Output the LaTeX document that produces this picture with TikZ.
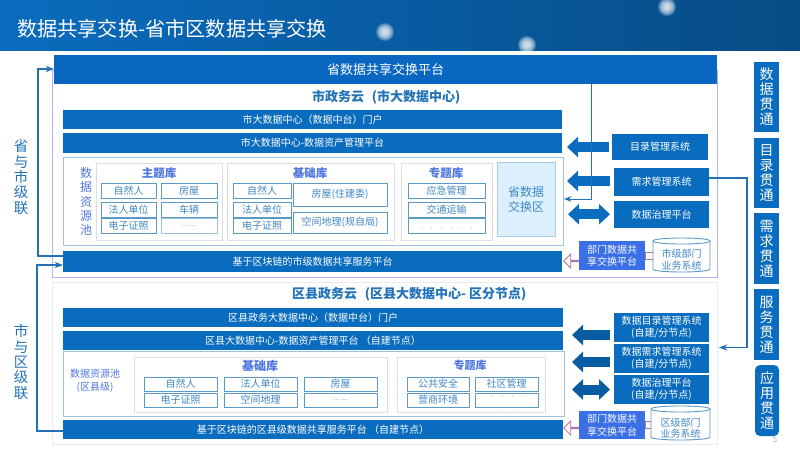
\documentclass[tikz,border=0pt]{standalone}
\usepackage{fontspec}
\setmainfont{Noto Sans CJK SC}
\usetikzlibrary{arrows.meta,shapes.arrows,shadows}
\definecolor{barblue}{HTML}{0A6CBE}
\definecolor{deptblue}{HTML}{3A6FE6}
\definecolor{cellline}{HTML}{5C9AC6}
\definecolor{celltext}{HTML}{3F88C4}
\definecolor{headblue}{HTML}{4F76E0}
\definecolor{linkblue}{HTML}{2272B8}
\newcommand{\fsz}[2]{\fontsize{#1}{#2}\selectfont}
\newcommand{\boxn}[7]{\node[#1,minimum width={(#5-#3)*1pt},minimum height={(#6-#4)*1pt}] (#2) at ({(#3+#5)/2},{(#4+#6)/2}) {#7};}
\newcommand{\barrel}[1]{\draw[store] ([yshift=-3pt]#1.north west) .. controls ([yshift=1pt]#1.north west) and ([yshift=1pt]#1.north east) .. ([yshift=-3pt]#1.north east) -- ([yshift=3pt]#1.south east) .. controls ([yshift=-1pt]#1.south east) and ([yshift=-1pt]#1.south west) .. ([yshift=3pt]#1.south west) -- cycle;
\draw[store] ([yshift=-3pt]#1.north west) .. controls ([yshift=-7pt]#1.north west) and ([yshift=-7pt]#1.north east) .. ([yshift=-3pt]#1.north east);}
\tikzset{>=Stealth,every node/.style={inner sep=0pt,outer sep=0pt,align=center},
bar/.style={fill=barblue,text=white,font=\fsz{10}{12}},
outline/.style={draw=#1,line width=.8pt},
panel/.style={fill=white,draw=black!13,line width=1pt,drop shadow={shadow xshift=1pt,shadow yshift=-1pt,fill=black!35,opacity=.5}},
cell/.style={fill=white,draw=cellline,line width=.9pt,text=celltext,font=\fsz{10}{12}},
head/.style={text=headblue,font=\fsz{11.5}{14}\bfseries},
cloudtitle/.style={anchor=west,text=linkblue,font=\fsz{13}{16}\bfseries},
side/.style={text=linkblue,font=\fsz{14.5}{15.3}},
column/.style={fill=barblue,text=white,font=\fsz{14}{15}},
dept/.style={fill=deptblue,text=white,font=\fsz{10}{12.5}},
store/.style={draw=cellline,fill=white,line width=.9pt},
storetext/.style={text=celltext,font=\fsz{10}{11.5}},
dots/.style={anchor=base,text=black!50,font=\fsz{7}{9}},
flow/.style={line width=10pt,barblue,-{Triangle[length=11pt,width=20pt]}},
flowboth/.style={line width=10pt,barblue,{Triangle[length=11pt,width=20pt]}-{Triangle[length=11pt,width=20pt]}},
link/.style={linkblue,line width=1.2pt,->},
hollow/.style={single arrow,shape border rotate=180,draw=black!20!violet!55,fill=orange!8,line width=.8pt,minimum height=15pt,minimum width=14pt,single arrow head extend=4pt,single arrow head indent=0pt},
stub/.style={draw=black!20!violet!55,fill=orange!8,line width=.8pt}}
\begin{document}
\begin{tikzpicture}[x=1pt,y=-1pt]
\useasboundingbox (0,0) rectangle (800,450);
% header
\shade[left color=barblue,right color=barblue!70!black] (0,0) rectangle (800,50);
\begin{scope}
\clip (0,0) rectangle (800,50);
\foreach \gx/\gy in {385/32,667/7,527/45}{\foreach \gr in {9,8,7,6,5,4,3}{\fill[white,opacity=.2] (\gx,\gy) circle (\gr);}}
\end{scope}
\node[anchor=west,text=white,font=\fsz{20.2}{24}] (title) at (17,29) {数据共享交换-省市区数据共享交换};
% city cloud
\boxn{outline=black!15!blue!30}{citycloud}{52}{70}{717}{277}{}
\boxn{outline=black!8}{districtcloud}{52}{282}{717}{444}{}
\boxn{bar,fill=barblue!95!blue,font=\fsz{13}{16}}{prov}{54}{55}{717}{84}{省数据共享交换平台}
\node[cloudtitle] (citytitle) at (312,97) {市政务云\hspace{8pt}(市大数据中心)};
\boxn{bar}{portal}{63}{110}{562}{129}{市大数据中心（数据中台）门户}
\boxn{bar}{asset}{63}{133}{562}{153}{市大数据中心-数据资产管理平台}
\boxn{outline=cellline!60}{pool}{63}{157}{563}{245}{}
\node[head,font=\fsz{12}{14.3}] (pooltext) at (86,201.5) {数\\据\\资\\源\\池};
\boxn{panel}{theme}{96}{163}{222}{240}{}
\boxn{panel}{base}{227}{163}{394}{240}{}
\boxn{panel}{topic}{401}{163}{492}{240}{}
\node[head] (themehead) at (159,173) {主题库};
\node[head] (basehead) at (310,173) {基础库};
\node[head] (topichead) at (446,173) {专题库};
\boxn{cell}{a1}{101}{183}{156}{198}{自然人}
\boxn{cell}{a2}{101}{202}{156}{217}{法人单位}
\boxn{cell}{a3}{101}{218.500}{156}{233}{电子证照}
\boxn{cell}{b1}{161}{183}{217}{198}{房屋}
\boxn{cell}{b2}{161}{202}{217}{217}{车辆}
\boxn{cell,draw=cellline!60,font=\fsz{7}{9}}{b3}{161}{218.500}{217}{233}{... ...}
\boxn{cell}{c1}{233}{183}{291}{198}{自然人}
\boxn{cell}{c2}{233}{202}{291}{217}{法人单位}
\boxn{cell}{c3}{233}{218.500}{291}{233}{电子证照}
\boxn{cell}{d1}{293}{183}{387}{206}{房屋(住建委)}
\boxn{cell}{d2}{293}{212}{387}{233}{空间地理(规自局)}
\boxn{cell}{e1}{408}{183}{485}{198}{应急管理}
\boxn{cell}{e2}{408}{202}{485}{217}{交通运输}
\boxn{cell}{e3}{408}{218.500}{485}{233}{}
\node[dots] (e3dots) at (446.500,229.500) {.\hspace{8pt}.\hspace{8pt}.\hspace{8pt}.\hspace{8pt}.\hspace{8pt}.};
\boxn{fill=blue!45!cyan!14,draw=cellline!50,line width=.8pt,text=celltext,font=\fsz{12}{15}}{xchg}{497}{162}{555}{236}{省数据\\交换区}
\boxn{bar}{cityshare}{63}{251}{562}{272}{基于区块链的市级数据共享服务平台}
\boxn{bar}{catalog}{612}{134}{708}{160}{目录管理系统}
\boxn{bar}{demand}{614}{168}{709}{196}{需求管理系统}
\boxn{bar}{govern}{614}{201}{709}{227.500}{数据治理平台}
\draw[flow,shorten >=5pt,shorten <=3pt] (catalog.west) -- (catalog.west -| asset.east);
\draw[flow,shorten >=5pt,shorten <=4pt] ([yshift=1pt]demand.west) -- ([yshift=1pt]demand.west -| asset.east);
\draw[flowboth,shorten >=6pt,shorten <=4pt] (govern.west) -- (govern.west -| asset.east);
\coordinate (xchgin) at (564,199);
\coordinate (tap) at (591,84);
\draw[link,line width=1pt] (tap) -- (tap |- xchgin) -- (xchgin);
\boxn{dept}{citydept}{579}{241}{645}{270}{部门数据共\\享交换平台}
\node[minimum width=57pt,minimum height=34pt] (citydb) at (681.500,255) {};
\path[stub] ([yshift=3.5pt]citydept.east) rectangle ([yshift=-3.5pt]citydept.east -| citydb.west);
\barrel{citydb}
\node[storetext] (citydbtext) at (681.500,259.500) {市级部门\\业务系统};
\node[hollow] (cityarrow) at (571.500,261) {};
% district cloud
\node[cloudtitle] (districttitle) at (292,294) {区县政务云\hspace{8pt}(区县大数据中心- 区分节点)};
\boxn{bar}{dportal}{63}{308}{563}{327}{区县政务大数据中心（数据中台）门户}
\boxn{bar}{dasset}{63}{331}{563}{350}{区县大数据中心-数据资产管理平台 （自建节点）}
\boxn{outline=cellline!60}{dpool}{63}{351}{564}{416}{}
\node[head,font=\fsz{10}{13}] (dpooltext) at (95,381) {数据资源池\\(区县级)};
\boxn{panel}{dbase}{134}{357}{387}{412}{}
\boxn{panel}{dtopic}{397}{357}{545}{412}{}
\node[head,font=\fsz{12}{14}\bfseries] (dbasehead) at (260,366) {基础库};
\node[head,font=\fsz{11}{14}\bfseries] (dtopichead) at (470,365) {专题库};
\boxn{cell}{f1}{144}{377}{217}{391}{自然人}
\boxn{cell}{f2}{224}{377}{297}{391}{法人单位}
\boxn{cell}{f3}{304}{377}{377}{391}{房屋}
\boxn{cell}{g1}{144}{393}{217}{407}{电子证照}
\boxn{cell}{g2}{224}{393}{297}{407}{空间地理}
\boxn{cell,font=\fsz{7}{9}}{g3}{304}{393}{377}{407}{... ...}
\boxn{cell}{h1}{407}{377}{469}{391}{公共安全}
\boxn{cell}{h2}{475}{377}{538}{391}{社区管理}
\boxn{cell}{i1}{407}{393}{469}{407}{营商环境}
\boxn{cell}{i2}{475}{393}{538}{407}{}
\node[dots] (i2dotsa) at (507.500,396) {.\hspace{8pt}.\hspace{8pt}.\hspace{8pt}.};
\node[dots] (i2dotsb) at (508,408) {.\hspace{8pt}.};
\boxn{bar}{dshare}{63}{420}{563}{439}{基于区块链的区县级数据共享服务平台 （自建节点）}
\boxn{bar,font=\fsz{10}{12.500}}{dcatalog}{614}{313}{709}{342}{数据目录管理系统\\(自建/分节点)}
\boxn{bar,font=\fsz{10}{12.500}}{ddemand}{614}{344}{709}{373}{数据需求管理系统\\(自建/分节点)}
\boxn{bar,font=\fsz{10}{12.500}}{dgovern}{614}{375}{709}{404}{数据治理平台\\(自建/分节点)}
\draw[flow,barblue!85!black,shorten >=9pt,shorten <=4pt] ([yshift=5.500pt]dasset.east -| dcatalog.west) -- ([yshift=5.500pt]dasset.east);
\draw[flow,barblue!85!black,shorten >=9pt,shorten <=4pt] ([yshift=-3.500pt]ddemand.west) -- ([yshift=-3.500pt]ddemand.west -| dasset.east);
\draw[flowboth,barblue!85!black,shorten >=9pt,shorten <=4pt] (dgovern.west) -- (dgovern.west -| dasset.east);
\boxn{dept}{distdept}{579}{411}{645}{439}{部门数据共\\享交换平台}
\node[minimum width=59pt,minimum height=34pt] (distdb) at (680.500,423) {};
\path[stub] ([yshift=3.5pt]distdept.east) rectangle ([yshift=-3.5pt]distdept.east -| distdb.west);
\barrel{distdb}
\node[storetext] (distdbtext) at (680.500,428) {区级部门\\业务系统};
\node[hollow] (distarrow) at (571.500,428) {};
% cascades on the left
\coordinate (upcity) at (63,256);
\coordinate (upprov) at (54,69);
\coordinate (updist) at (63,431);
\coordinate (incity) at (63,265);
\draw[link] (upcity) -- (38,256) -- (38,69) -- (upprov);
\draw[link] (updist) -- (37,431) -- (37,265) -- (incity);
\node[side] (provcity) at (21,177) {省\\与\\市\\级\\联};
\node[side] (citydist) at (21,362) {市\\与\\区\\级\\联};
% right column
\boxn{column}{coldata}{754}{62}{779}{132}{数\\据\\贯\\通}
\boxn{column}{colcat}{754}{138}{779}{208}{目\\录\\贯\\通}
\boxn{column}{coldem}{754}{213}{779}{284}{需\\求\\贯\\通}
\boxn{column}{colsrv}{754}{289}{779}{360}{服\\务\\贯\\通}
\boxn{column,rounded corners=5pt}{colapp}{755}{365}{779}{436}{应\\用\\贯\\通}
\coordinate (dtarget) at (719,347.500);
\draw[link] (demand.east |- 0,178) -- (747,178) -- (747,347.500) -- (dtarget);
\node[text=black!30,font=\fsz{8}{10}] (pageno) at (775,440) {5};
\end{tikzpicture}
\end{document}
